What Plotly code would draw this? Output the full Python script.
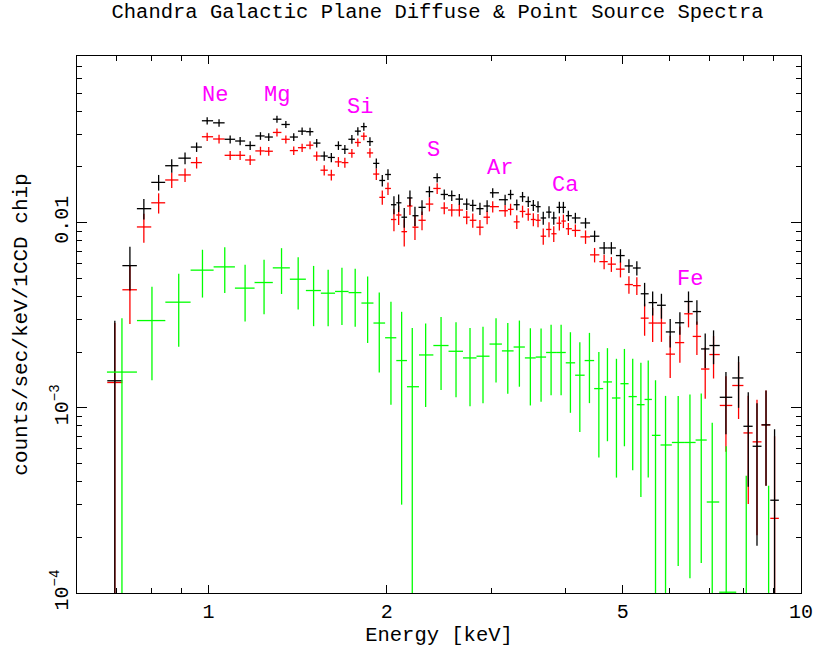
import math

import plotly.graph_objects as go

# --- data (energy in keV, rate in counts/sec/keV) ---

# black / red spectra share the same energy bins
energy = [0.695, 0.737, 0.778, 0.824, 0.867, 0.913, 0.955, 0.995, 1.042, 1.088,
          1.131, 1.176, 1.224, 1.264, 1.305, 1.351, 1.393, 1.439, 1.484, 1.523,
          1.568, 1.612, 1.657, 1.699, 1.746, 1.787, 1.829, 1.873, 1.920, 1.965,
          2.009, 2.056, 2.094, 2.140, 2.188, 2.231, 2.293, 2.360, 2.432, 2.500,
          2.574, 2.651, 2.728, 2.793, 2.872, 2.953, 3.018, 3.167, 3.235, 3.314,
          3.389, 3.465, 3.534, 3.599, 3.673, 3.756, 3.826, 3.910, 3.972, 4.049,
          4.161, 4.329, 4.484, 4.653, 4.786, 4.958, 5.124, 5.284, 5.446, 5.619,
          5.814, 6.015, 6.246, 6.459, 6.673, 6.892, 7.119, 7.470, 7.846, 8.147,
          8.428, 8.729, 9.024]

black_rate = [0.00140, 0.00586, 0.0119, 0.0165, 0.0203, 0.0223, 0.0256, 0.0355, 0.0346, 0.0282,
              0.0276, 0.0261, 0.0294, 0.0290, 0.0362, 0.0339, 0.0290, 0.0312, 0.0310, 0.0269,
              0.0229, 0.0225, 0.0261, 0.0249, 0.0282, 0.0312, 0.0330, 0.0274, 0.0209, 0.0169,
              0.0182, 0.0125, 0.0128, 0.0107, 0.0136, 0.0109, 0.0121, 0.0147, 0.0175, 0.0142,
              0.0140, 0.0134, 0.0126, 0.0124, 0.0119, 0.0123, 0.0145, 0.0133, 0.0142, 0.0125,
              0.0138, 0.0130, 0.0124, 0.0122, 0.0106, 0.0114, 0.0106, 0.0121, 0.0121, 0.0109,
              0.0106, 0.00996, 0.00845, 0.00730, 0.00730, 0.00664, 0.00584, 0.00569, 0.00413, 0.00370,
              0.00358, 0.00257, 0.00288, 0.00375, 0.00331, 0.00208, 0.00217, 0.00114, 0.00145, 0.000795,
              0.000620, 0.000809, 0.000317]

black_err = [0.00155, 0.00156, 0.0015, 0.0016, 0.0017, 0.0016, 0.0015, 0.0016, 0.0016, 0.0014,
             0.0014, 0.0014, 0.0014, 0.0014, 0.0016, 0.0015, 0.0014, 0.0015, 0.0015, 0.0014,
             0.0013, 0.0013, 0.0014, 0.0014, 0.0015, 0.0016, 0.0016, 0.0015, 0.0013, 0.0012,
             0.0012, 0.0014, 0.0014, 0.0013, 0.0013, 0.0013, 0.0011, 0.0010, 0.0010, 0.0009,
             0.0009, 0.0009, 0.0009, 0.0009, 0.0009, 0.0009, 0.00085, 0.00085, 0.00085, 0.00085,
             0.00085, 0.00085, 0.00085, 0.00085, 0.00085, 0.00085, 0.00085, 0.00085, 0.00085, 0.0007,
             0.0007, 0.00065, 0.0006, 0.00055, 0.00055, 0.00055, 0.0005, 0.0005, 0.0006, 0.00055,
             0.00055, 0.00045, 0.0004, 0.0005, 0.0005, 0.00044, 0.00045, 0.00042, 0.00045, 0.00042,
             0.00044, 0.00043, 0.00045]

red_rate = [0.00137, 0.00434, 0.00948, 0.0128, 0.0170, 0.0181, 0.0211, 0.0291, 0.0283, 0.0231,
            0.0231, 0.0218, 0.0244, 0.0243, 0.0307, 0.0282, 0.0245, 0.0254, 0.0262, 0.0229,
            0.0192, 0.0181, 0.0213, 0.0211, 0.0237, 0.0271, 0.0293, 0.0238, 0.0183, 0.0137,
            0.0153, 0.0104, 0.0110, 0.00894, 0.0123, 0.00945, 0.0103, 0.0126, 0.0153, 0.0120,
            0.0117, 0.0117, 0.0107, 0.0103, 0.00945, 0.0107, 0.0122, 0.0116, 0.0118, 0.0101,
            0.0115, 0.0111, 0.0104, 0.0103, 0.00845, 0.00919, 0.00871, 0.00993, 0.0102, 0.00927,
            0.00908, 0.00838, 0.00670, 0.00616, 0.00597, 0.00561, 0.00463, 0.00457, 0.00305, 0.00287,
            0.00287, 0.00195, 0.00225, 0.00322, 0.00243, 0.00162, 0.00194, 0.00103, 0.00132, 0.000732,
            0.000655, 0.000809, 0.000253]

red_err = [0.0015, 0.0015, 0.0017, 0.0016, 0.0016, 0.0015, 0.0015, 0.0015, 0.0015, 0.0013,
           0.0013, 0.0013, 0.0013, 0.0013, 0.0015, 0.0014, 0.0013, 0.0013, 0.0013, 0.0013,
           0.0012, 0.0012, 0.0013, 0.0013, 0.0013, 0.0014, 0.0014, 0.0014, 0.0013, 0.0012,
           0.0012, 0.0014, 0.0013, 0.0015, 0.0013, 0.0014, 0.0012, 0.0011, 0.0010, 0.0009,
           0.0009, 0.0009, 0.0009, 0.0009, 0.0009, 0.0009, 0.00085, 0.00085, 0.00085, 0.00085,
           0.00085, 0.00085, 0.00085, 0.00085, 0.00085, 0.00085, 0.00085, 0.00085, 0.00085, 0.0007,
           0.0007, 0.0007, 0.0006, 0.00055, 0.00055, 0.00055, 0.0005, 0.0005, 0.0006, 0.0006,
           0.0006, 0.0005, 0.0005, 0.0005, 0.0005, 0.0005, 0.0005, 0.00045, 0.00045, 0.00043,
           0.00045, 0.00043, 0.00045]

# green spectrum has its own, coarser binning
green_energy = [0.7145, 0.8029, 0.8909, 0.977, 1.0654, 1.153, 1.2412, 1.3284, 1.4171, 1.5047,
                1.5922, 1.6799, 1.7686, 1.8562, 1.9421, 2.0323, 2.1184, 2.2078, 2.3257, 2.4692,
                2.617, 2.7632, 2.9062, 3.0572, 3.2001, 3.3477, 3.4935, 3.642, 3.7866, 3.9369,
                4.0819, 4.234, 4.395, 4.5589, 4.7137, 4.8815, 5.035, 5.1999, 5.3677, 5.5232,
                5.6818, 5.9073, 6.205, 6.4949, 6.7866, 7.0826, 7.478, 8.0834, 8.818]

green_rate = [1.56e-3, 2.96e-3, 3.72e-3, 5.54e-3, 5.77e-3, 4.43e-3, 4.75e-3, 5.70e-3, 4.95e-3, 4.30e-3,
              4.16e-3, 4.25e-3, 4.19e-3, 3.68e-3, 2.87e-3, 2.39e-3, 1.80e-3, 1.30e-3, 1.93e-3, 2.17e-3,
              2.02e-3, 1.86e-3, 1.90e-3, 2.21e-3, 2.03e-3, 2.13e-3, 1.86e-3, 1.88e-3, 1.99e-3, 1.99e-3,
              1.75e-3, 1.50e-3, 1.80e-3, 1.27e-3, 1.38e-3, 1.13e-3, 1.35e-3, 1.15e-3, 1.04e-3, 1.11e-3,
              7.1e-4, 6.3e-4, 6.5e-4, 6.5e-4, 6.7e-4, 3.1e-4, 1.01e-4, 6e-5, 5e-5]

green_err = [1.49e-3, 1.55e-3, 1.58e-3, 1.6e-3, 1.6e-3, 1.5e-3, 1.55e-3, 1.58e-3, 1.55e-3, 1.54e-3,
             1.4e-3, 1.45e-3, 1.45e-3, 1.44e-3, 1.32e-3, 1.35e-3, 1.5e-3, 1.4e-3, 9.2e-4, 9.2e-4,
             8.8e-4, 8.4e-4, 8.4e-4, 8.4e-4, 8.4e-4, 8.3e-4, 8.3e-4, 8.0e-4, 8.2e-4, 8.2e-4,
             8.1e-4, 7.6e-4, 7.4e-4, 7.3e-4, 7.2e-4, 7.1e-4, 7.3e-4, 6.9e-4, 7.1e-4, 6.9e-4,
             7.0e-4, 5.3e-4, 5.1e-4, 5.3e-4, 5.25e-4, 5.2e-4, 5.2e-4, 3.7e-4, 3.3e-4]

# line identifications
line_names = ["Ne", "Mg", "Si", "S", "Ar", "Ca", "Fe"]
line_energy = [1.025, 1.305, 1.801, 2.402, 3.105, 3.999, 6.502]
line_rate = [0.0488, 0.0488, 0.0420, 0.02465, 0.01972, 0.01596, 0.00491]

FONT = "Liberation Mono"


def bin_edges(e):
    """Half bin widths (minus, plus) from log-midpoints between neighbouring bins."""
    lg = [math.log10(v) for v in e]
    minus, plus = [], []
    for i in range(len(lg)):
        left = (lg[i] - lg[i - 1]) / 2 if i > 0 else (lg[i + 1] - lg[i]) / 2
        right = (lg[i + 1] - lg[i]) / 2 if i < len(lg) - 1 else (lg[i] - lg[i - 1]) / 2
        minus.append(e[i] - 10 ** (lg[i] - left))
        plus.append(10 ** (lg[i] + right) - e[i])
    return minus, plus


def spectrum(x, y, err, color):
    xm, xp = bin_edges(x)
    return go.Scatter(
        x=x, y=y, mode="markers",
        marker=dict(size=1, color=color),
        error_x=dict(type="data", symmetric=False, array=xp, arrayminus=xm,
                     color=color, thickness=1.3, width=0),
        error_y=dict(type="data", array=err, color=color, thickness=1.3, width=0),
        hoverinfo="x+y", showlegend=False,
    )


fig = go.Figure()
fig.add_trace(spectrum(energy, red_rate, red_err, "#ff0000"))
fig.add_trace(spectrum(energy, black_rate, black_err, "#000000"))
fig.add_trace(spectrum(green_energy, green_rate, green_err, "#00ff00"))

for name, ex, ey in zip(line_names, line_energy, line_rate):
    fig.add_annotation(x=math.log10(ex), y=math.log10(ey), text=name, showarrow=False,
                       font=dict(family=FONT, size=22, color="#ff00ff"))

axis_common = dict(
    type="log", showline=True, linecolor="black", linewidth=1.3, mirror="allticks",
    ticks="inside", tickcolor="black", tickwidth=1.2, showgrid=False, zeroline=False,
    automargin=False,
    tickfont=dict(family=FONT, size=20, color="black"),
)

fig.update_layout(
    width=814, height=654,
    margin=dict(l=77, r=13, t=56, b=61),
    paper_bgcolor="white", plot_bgcolor="white",
    font=dict(family=FONT, size=20, color="black"),
    title=dict(text="Chandra Galactic Plane Diffuse & Point Source Spectra",
               x=0.5375, xanchor="center", y=0.984, yanchor="middle",
               font=dict(family=FONT, size=20.5, color="black")),
    xaxis=dict(
        axis_common, range=[math.log10(0.6), 1.0],
        tickvals=[1, 2, 5, 10], ticktext=["1", "2", "5", "10"], ticklen=8,
        minor=dict(ticks="inside", ticklen=5, tickcolor="black", dtick="D1", showgrid=False),
        title=dict(text="Energy [keV]", standoff=2, font=dict(family=FONT, size=20.5)),
    ),
    yaxis=dict(
        axis_common, range=[-4, -1.1],
        tickvals=[1e-4, 1e-3, 1e-2],
        ticktext=["10<sup>\u22124</sup>", "10<sup>\u22123</sup>", "0.01"],
        tickangle=-90, ticklen=10,
        minor=dict(ticks="inside", ticklen=5, tickcolor="black", dtick="D1", showgrid=False),
        title=dict(text="counts/sec/keV/1CCD chip", standoff=14, font=dict(family=FONT, size=21)),
    ),
)

# drop the browser's default page margin so the figure sits at the window origin
fig.write_html("out.html", config={"displayModeBar": False},
               post_script="document.body.style.margin='0';")
